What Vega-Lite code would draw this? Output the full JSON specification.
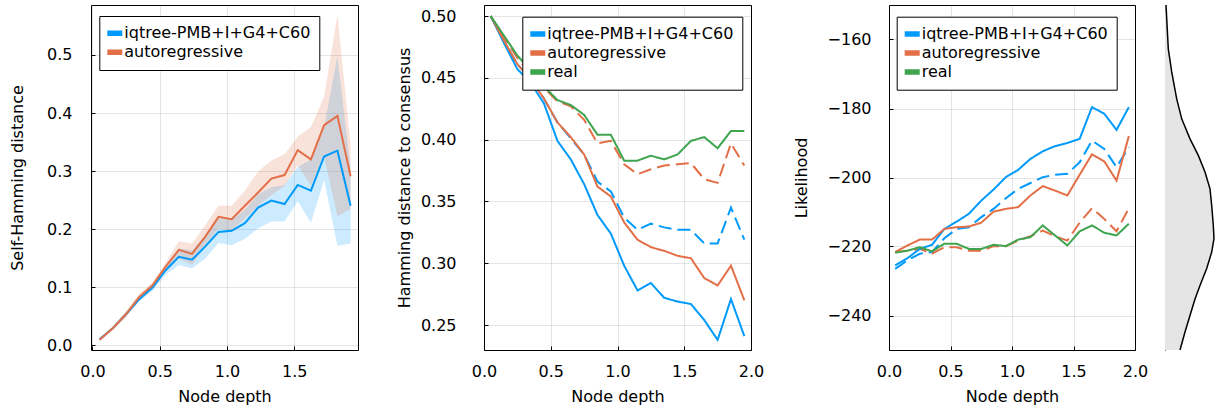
{
  "$schema": "https://vega.github.io/schema/vega-lite/v6.json",
  "padding": {"left": 9, "top": 2, "right": 0, "bottom": 0},
  "background": "white",
  "config": {
    "font": "DejaVu Sans",
    "view": {"stroke": "black", "strokeWidth": 1},
    "axis": {
      "labelFont": "DejaVu Sans", "labelFontSize": 16, "labelColor": "black",
      "titleFont": "DejaVu Sans", "titleFontSize": 16, "titleFontWeight": "normal", "titleColor": "black",
      "domain": false, "tickColor": "black", "tickSize": -4, "tickWidth": 1,
      "gridColor": "black", "gridOpacity": 0.1, "gridWidth": 1, "labelFlush": false
    },
    "axisX": {"labelPadding": 17, "titlePadding": 9},
    "legend": {
      "orient": "none", "padding": 8, "strokeColor": "black", "strokeWidth": 1, "fillColor": "white",
      "labelFont": "DejaVu Sans", "labelFontSize": 16, "labelColor": "black", "labelLimit": 400,
      "symbolType": "stroke", "symbolStrokeWidth": 5, "symbolSize": 441, "labelOffset": -1, "symbolOffset": -9,
      "rowPadding": 0, "cornerRadius": 0, "symbolOpacity": 1, "clipHeight": 18.7
    }
  },
  "datasets": {
    "series": [
      {"key": "bs", "model": "iqtree-PMB+I+G4+C60", "style": "solid"},
      {"key": "bd", "model": "iqtree-PMB+I+G4+C60", "style": "dashed"},
      {"key": "os", "model": "autoregressive", "style": "solid"},
      {"key": "od", "model": "autoregressive", "style": "dashed"},
      {"key": "g", "model": "real", "style": "solid"}
    ],
    "p1": [
      {"x": 0.053, "model": "iqtree-PMB+I+G4+C60", "m": 0.010, "lo": 0.008, "hi": 0.012},
      {"x": 0.151, "model": "iqtree-PMB+I+G4+C60", "m": 0.029, "lo": 0.027, "hi": 0.031},
      {"x": 0.249, "model": "iqtree-PMB+I+G4+C60", "m": 0.053, "lo": 0.050, "hi": 0.056},
      {"x": 0.348, "model": "iqtree-PMB+I+G4+C60", "m": 0.079, "lo": 0.075, "hi": 0.083},
      {"x": 0.446, "model": "iqtree-PMB+I+G4+C60", "m": 0.099, "lo": 0.093, "hi": 0.104},
      {"x": 0.544, "model": "iqtree-PMB+I+G4+C60", "m": 0.129, "lo": 0.121, "hi": 0.136},
      {"x": 0.642, "model": "iqtree-PMB+I+G4+C60", "m": 0.152, "lo": 0.138, "hi": 0.167},
      {"x": 0.740, "model": "iqtree-PMB+I+G4+C60", "m": 0.147, "lo": 0.132, "hi": 0.163},
      {"x": 0.839, "model": "iqtree-PMB+I+G4+C60", "m": 0.170, "lo": 0.149, "hi": 0.190},
      {"x": 0.937, "model": "iqtree-PMB+I+G4+C60", "m": 0.195, "lo": 0.176, "hi": 0.218},
      {"x": 1.035, "model": "iqtree-PMB+I+G4+C60", "m": 0.197, "lo": 0.172, "hi": 0.216},
      {"x": 1.133, "model": "iqtree-PMB+I+G4+C60", "m": 0.210, "lo": 0.183, "hi": 0.233},
      {"x": 1.231, "model": "iqtree-PMB+I+G4+C60", "m": 0.237, "lo": 0.201, "hi": 0.260},
      {"x": 1.330, "model": "iqtree-PMB+I+G4+C60", "m": 0.249, "lo": 0.213, "hi": 0.272},
      {"x": 1.428, "model": "iqtree-PMB+I+G4+C60", "m": 0.243, "lo": 0.213, "hi": 0.276},
      {"x": 1.526, "model": "iqtree-PMB+I+G4+C60", "m": 0.276, "lo": 0.248, "hi": 0.307},
      {"x": 1.624, "model": "iqtree-PMB+I+G4+C60", "m": 0.266, "lo": 0.211, "hi": 0.320},
      {"x": 1.722, "model": "iqtree-PMB+I+G4+C60", "m": 0.325, "lo": 0.284, "hi": 0.376},
      {"x": 1.821, "model": "iqtree-PMB+I+G4+C60", "m": 0.335, "lo": 0.171, "hi": 0.497},
      {"x": 1.919, "model": "iqtree-PMB+I+G4+C60", "m": 0.240, "lo": 0.175, "hi": 0.305},
      {"x": 0.053, "model": "autoregressive", "m": 0.009, "lo": 0.006, "hi": 0.012},
      {"x": 0.151, "model": "autoregressive", "m": 0.029, "lo": 0.026, "hi": 0.032},
      {"x": 0.249, "model": "autoregressive", "m": 0.053, "lo": 0.048, "hi": 0.058},
      {"x": 0.348, "model": "autoregressive", "m": 0.083, "lo": 0.077, "hi": 0.089},
      {"x": 0.446, "model": "autoregressive", "m": 0.103, "lo": 0.097, "hi": 0.107},
      {"x": 0.544, "model": "autoregressive", "m": 0.135, "lo": 0.128, "hi": 0.142},
      {"x": 0.642, "model": "autoregressive", "m": 0.164, "lo": 0.149, "hi": 0.179},
      {"x": 0.740, "model": "autoregressive", "m": 0.157, "lo": 0.138, "hi": 0.175},
      {"x": 0.839, "model": "autoregressive", "m": 0.187, "lo": 0.172, "hi": 0.207},
      {"x": 0.937, "model": "autoregressive", "m": 0.221, "lo": 0.201, "hi": 0.240},
      {"x": 1.035, "model": "autoregressive", "m": 0.217, "lo": 0.197, "hi": 0.240},
      {"x": 1.133, "model": "autoregressive", "m": 0.240, "lo": 0.218, "hi": 0.266},
      {"x": 1.231, "model": "autoregressive", "m": 0.263, "lo": 0.240, "hi": 0.299},
      {"x": 1.330, "model": "autoregressive", "m": 0.287, "lo": 0.258, "hi": 0.318},
      {"x": 1.428, "model": "autoregressive", "m": 0.293, "lo": 0.274, "hi": 0.329},
      {"x": 1.526, "model": "autoregressive", "m": 0.336, "lo": 0.310, "hi": 0.359},
      {"x": 1.624, "model": "autoregressive", "m": 0.320, "lo": 0.275, "hi": 0.376},
      {"x": 1.722, "model": "autoregressive", "m": 0.379, "lo": 0.325, "hi": 0.428},
      {"x": 1.821, "model": "autoregressive", "m": 0.395, "lo": 0.222, "hi": 0.569},
      {"x": 1.919, "model": "autoregressive", "m": 0.291, "lo": 0.235, "hi": 0.345}
    ],
    "p2": [
      {"x": 0.05, "bd": 0.500, "od": 0.500, "bs": 0.500, "os": 0.500, "g": 0.500},
      {"x": 0.15, "bd": 0.480, "od": 0.483, "bs": 0.478, "os": 0.480, "g": 0.484},
      {"x": 0.25, "bd": 0.461, "od": 0.466, "bs": 0.457, "os": 0.461, "g": 0.468},
      {"x": 0.35, "bd": 0.449, "od": 0.453, "bs": 0.446, "os": 0.449, "g": 0.456},
      {"x": 0.45, "bd": 0.433, "od": 0.442, "bs": 0.429, "os": 0.433, "g": 0.443},
      {"x": 0.55, "bd": 0.414, "od": 0.431, "bs": 0.399, "os": 0.414, "g": 0.432},
      {"x": 0.65, "bd": 0.401, "od": 0.427, "bs": 0.384, "os": 0.402, "g": 0.428},
      {"x": 0.75, "bd": 0.388, "od": 0.416, "bs": 0.364, "os": 0.388, "g": 0.420},
      {"x": 0.85, "bd": 0.366, "od": 0.397, "bs": 0.339, "os": 0.362, "g": 0.404},
      {"x": 0.95, "bd": 0.358, "od": 0.399, "bs": 0.324, "os": 0.354, "g": 0.404},
      {"x": 1.05, "bd": 0.337, "od": 0.380, "bs": 0.298, "os": 0.333, "g": 0.383},
      {"x": 1.15, "bd": 0.327, "od": 0.372, "bs": 0.278, "os": 0.319, "g": 0.383},
      {"x": 1.25, "bd": 0.332, "od": 0.376, "bs": 0.284, "os": 0.313, "g": 0.387},
      {"x": 1.35, "bd": 0.329, "od": 0.379, "bs": 0.272, "os": 0.310, "g": 0.384},
      {"x": 1.45, "bd": 0.327, "od": 0.380, "bs": 0.269, "os": 0.306, "g": 0.388},
      {"x": 1.55, "bd": 0.327, "od": 0.381, "bs": 0.267, "os": 0.304, "g": 0.399},
      {"x": 1.65, "bd": 0.316, "od": 0.368, "bs": 0.254, "os": 0.288, "g": 0.402},
      {"x": 1.75, "bd": 0.316, "od": 0.365, "bs": 0.238, "os": 0.282, "g": 0.393},
      {"x": 1.85, "bd": 0.345, "od": 0.397, "bs": 0.271, "os": 0.298, "g": 0.407},
      {"x": 1.95, "bd": 0.319, "od": 0.379, "bs": 0.241, "os": 0.270, "g": 0.407}
    ],
    "p3": [
      {"x": 0.05, "bd": -226.5, "od": -221.6, "bs": -225.5, "os": -221.6, "g": -221.8},
      {"x": 0.15, "bd": -224.0, "od": -221.2, "bs": -223.4, "os": -219.7, "g": -221.2},
      {"x": 0.25, "bd": -222.1, "od": -220.7, "bs": -220.7, "os": -218.0, "g": -220.2},
      {"x": 0.35, "bd": -221.6, "od": -222.1, "bs": -219.5, "os": -218.0, "g": -221.4},
      {"x": 0.45, "bd": -217.6, "od": -220.2, "bs": -214.9, "os": -214.9, "g": -219.2},
      {"x": 0.55, "bd": -214.9, "od": -220.2, "bs": -212.8, "os": -214.4, "g": -219.2},
      {"x": 0.65, "bd": -214.4, "od": -221.2, "bs": -210.5, "os": -214.2, "g": -220.7},
      {"x": 0.75, "bd": -211.5, "od": -221.2, "bs": -206.7, "os": -213.1, "g": -220.7},
      {"x": 0.85, "bd": -209.1, "od": -219.9, "bs": -203.5, "os": -209.9, "g": -219.5},
      {"x": 0.95, "bd": -206.0, "od": -219.9, "bs": -199.9, "os": -209.1, "g": -219.9},
      {"x": 1.05, "bd": -203.3, "od": -218.3, "bs": -197.8, "os": -208.6, "g": -218.0},
      {"x": 1.15, "bd": -201.6, "od": -217.0, "bs": -194.6, "os": -205.2, "g": -217.3},
      {"x": 1.25, "bd": -199.9, "od": -215.4, "bs": -192.4, "os": -202.5, "g": -213.9},
      {"x": 1.35, "bd": -199.2, "od": -217.0, "bs": -190.9, "os": -203.8, "g": -216.8},
      {"x": 1.45, "bd": -198.9, "od": -218.3, "bs": -190.0, "os": -205.2, "g": -219.7},
      {"x": 1.55, "bd": -195.6, "od": -213.1, "bs": -188.8, "os": -199.2, "g": -215.6},
      {"x": 1.65, "bd": -189.3, "od": -208.9, "bs": -179.6, "os": -193.3, "g": -213.9},
      {"x": 1.75, "bd": -191.7, "od": -212.0, "bs": -181.5, "os": -195.3, "g": -216.0},
      {"x": 1.85, "bd": -197.0, "od": -215.6, "bs": -186.2, "os": -200.9, "g": -216.8},
      {"x": 1.95, "bd": -191.2, "od": -208.9, "bs": -179.6, "os": -188.0, "g": -213.4}
    ],
    "dens": [
      {"lik": -150.0, "d": 1.0},
      {"lik": -162.7, "d": 3.3},
      {"lik": -169.4, "d": 6.7},
      {"lik": -177.2, "d": 11.7},
      {"lik": -183.0, "d": 16.7},
      {"lik": -188.8, "d": 25.0},
      {"lik": -193.6, "d": 33.3},
      {"lik": -198.4, "d": 40.0},
      {"lik": -203.3, "d": 45.0},
      {"lik": -208.1, "d": 46.7},
      {"lik": -213.9, "d": 48.3},
      {"lik": -217.7, "d": 49.0},
      {"lik": -221.6, "d": 46.7},
      {"lik": -226.4, "d": 41.7},
      {"lik": -231.3, "d": 35.0},
      {"lik": -235.2, "d": 30.0},
      {"lik": -240.0, "d": 25.0},
      {"lik": -244.8, "d": 20.0},
      {"lik": -250.0, "d": 15.0}
    ]
  },
  "resolve": {
    "scale": {"x": "independent", "y": "independent", "color": "independent", "strokeDash": "independent"},
    "legend": {"color": "independent"}
  },
  "spacing": 37,
  "hconcat": [
    {
      "width": 267,
      "height": 345,
      "data": {"name": "p1"},
      "encoding": {
        "x": {"field": "x", "type": "quantitative",
              "scale": {"domain": [-0.011, 1.974], "nice": false, "zero": false},
              "axis": {"values": [0, 0.5, 1, 1.5], "format": ".1f", "title": "Node depth"}},
        "color": {"field": "model", "type": "nominal",
                  "scale": {"domain": ["iqtree-PMB+I+G4+C60", "autoregressive"], "range": ["#009AFA", "#E36F47"]},
                  "legend": {"title": null, "legendX": 8.3, "legendY": 11, "symbolOpacity": 1,
                             "encode": {"symbols": {"update": {"strokeWidth": {"value": 5.5}, "opacity": {"value": 1}, "fillOpacity": {"value": 0}}}}}}
      },
      "layer": [
        {
          "mark": {"type": "area", "opacity": 0.2},
          "encoding": {
            "y": {"field": "lo", "type": "quantitative",
                  "scale": {"domain": [-0.0086, 0.5862], "nice": false, "zero": false},
                  "axis": {"values": [0, 0.1, 0.2, 0.3, 0.4, 0.5], "format": ".1f", "title": "Self-Hamming distance", "labelPadding": 23, "titlePadding": 20.6}},
            "y2": {"field": "hi"}
          }
        },
        {
          "mark": {"type": "line", "strokeWidth": 2},
          "encoding": {
            "y": {"field": "m", "type": "quantitative",
                  "axis": {"values": [0, 0.1, 0.2, 0.3, 0.4, 0.5], "format": ".1f", "title": "Self-Hamming distance", "labelPadding": 23, "titlePadding": 20.6}}
          }
        }
      ]
    },
    {
      "spacing": 27,
      "resolve": {
        "scale": {"x": "independent", "y": "independent", "color": "independent", "strokeDash": "independent"},
        "legend": {"color": "independent"}
      },
      "hconcat": [
        {
          "width": 267,
          "height": 345,
          "data": {"name": "p2"},
          "transform": [
            {"fold": ["bd", "od", "bs", "os", "g"], "as": ["key", "v"]},
            {"lookup": "key", "from": {"data": {"name": "series"}, "key": "key", "fields": ["model", "style"]}}
          ],
          "mark": {"type": "line", "strokeWidth": 2},
          "encoding": {
            "x": {"field": "x", "type": "quantitative",
                  "scale": {"domain": [0, 2], "nice": false, "zero": false},
                  "axis": {"values": [0, 0.5, 1, 1.5, 2], "format": ".1f", "title": "Node depth"}},
            "y": {"field": "v", "type": "quantitative",
                  "scale": {"domain": [0.2298, 0.5089], "nice": false, "zero": false},
                  "axis": {"values": [0.25, 0.3, 0.35, 0.4, 0.45, 0.5], "format": ".2f", "title": "Hamming distance to consensus", "labelPadding": 32, "titlePadding": 7.7}},
            "color": {"field": "model", "type": "nominal",
                      "scale": {"domain": ["iqtree-PMB+I+G4+C60", "autoregressive", "real"], "range": ["#009AFA", "#E36F47", "#3EA44E"]},
                      "legend": {"title": null, "legendX": 38.3, "legendY": 11.7,
                                 "encode": {"symbols": {"update": {"strokeWidth": {"value": 5.5}, "strokeDash": {"value": [1, 0]}}}}}},
            "strokeDash": {"field": "style", "type": "nominal",
                           "scale": {"domain": ["solid", "dashed"], "range": [[1, 0], [13, 6]]},
                           "legend": null}
          }
        },
        {
          "spacing": 14,
          "resolve": {
            "scale": {"x": "independent", "y": "independent", "color": "independent", "strokeDash": "independent"},
            "legend": {"color": "independent"}
          },
          "hconcat": [
            {
              "width": 246,
              "height": 345,
              "data": {"name": "p3"},
              "transform": [
                {"fold": ["bd", "od", "bs", "os", "g"], "as": ["key", "v"]},
                {"lookup": "key", "from": {"data": {"name": "series"}, "key": "key", "fields": ["model", "style"]}}
              ],
              "mark": {"type": "line", "strokeWidth": 2},
              "encoding": {
                "x": {"field": "x", "type": "quantitative",
                      "scale": {"domain": [0, 2], "nice": false, "zero": false},
                      "axis": {"values": [0, 0.5, 1, 1.5, 2], "format": ".1f", "title": "Node depth"}},
                "y": {"field": "v", "type": "quantitative",
                      "scale": {"domain": [-250, -150], "nice": false, "zero": false},
                      "axis": {"values": [-240, -220, -200, -180, -160], "format": "d", "title": "Likelihood", "labelPadding": 22, "titlePadding": 18}},
                "color": {"field": "model", "type": "nominal",
                          "scale": {"domain": ["iqtree-PMB+I+G4+C60", "autoregressive", "real"], "range": ["#009AFA", "#E36F47", "#3EA44E"]},
                          "legend": {"title": null, "legendX": 7.7, "legendY": 11.7,
                                     "encode": {"symbols": {"update": {"strokeWidth": {"value": 5.5}, "strokeDash": {"value": [1, 0]}}}}}},
                "strokeDash": {"field": "style", "type": "nominal",
                               "scale": {"domain": ["solid", "dashed"], "range": [[1, 0], [13, 6]]},
                               "legend": null}
              }
            },
            {
              "width": 51,
              "height": 345,
              "view": {"stroke": null},
              "data": {"name": "dens"},
              "layer": [
                {
                  "mark": {"type": "area", "orient": "horizontal", "color": "#e5e5e5"},
                  "encoding": {
                    "y": {"field": "lik", "type": "quantitative",
                          "scale": {"domain": [-250, -150], "nice": false, "zero": false},
                          "axis": {"labels": false, "ticks": false, "grid": false, "domain": true, "domainColor": "black", "domainWidth": 1, "title": null}},
                    "x": {"field": "d", "type": "quantitative",
                          "scale": {"domain": [0, 51], "nice": false, "zero": false}, "axis": null}
                  }
                },
                {
                  "mark": {"type": "line", "color": "black", "strokeWidth": 1.5},
                  "encoding": {
                    "y": {"field": "lik", "type": "quantitative",
                          "axis": {"labels": false, "ticks": false, "grid": false, "domain": true, "domainColor": "black", "domainWidth": 1, "title": null}},
                    "x": {"field": "d", "type": "quantitative"},
                    "order": {"field": "lik", "type": "quantitative"}
                  }
                }
              ]
            }
          ]
        }
      ]
    }
  ]
}
